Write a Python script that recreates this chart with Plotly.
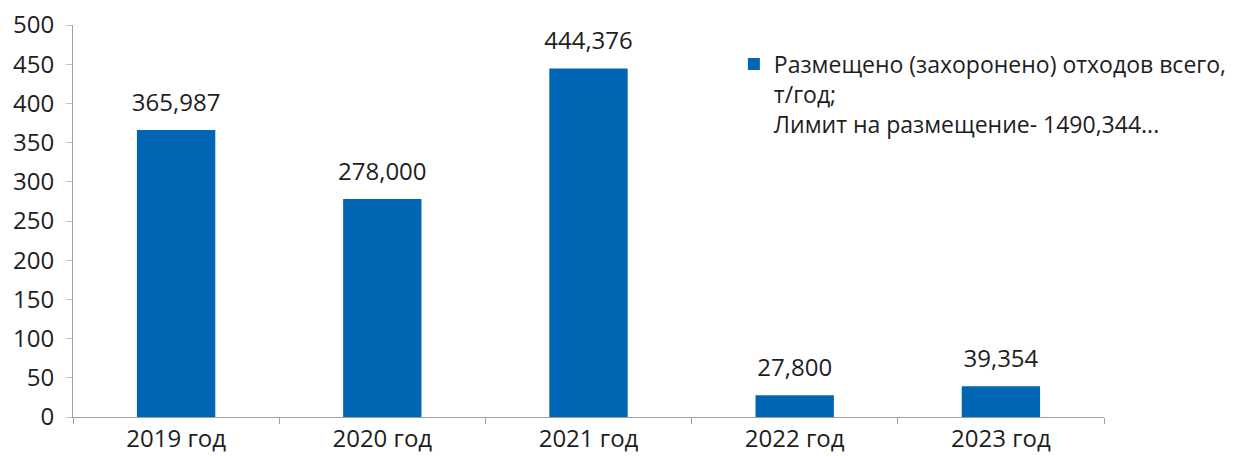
import plotly.graph_objects as go

categories = ["2019 год", "2020 год", "2021 год", "2022 год", "2023 год"]
values = [365.987, 278.000, 444.376, 27.800, 39.354]
series_name = "Размещено (захоронено) отходов всего,<br>т/год;<br>Лимит на размещение- 1490,344..."
y_ticks = [0, 50, 100, 150, 200, 250, 300, 350, 400, 450, 500]

FONT = "Open Sans"
TXT = "#1e1e1e"
FS = 24

fig = go.Figure()
fig.add_trace(go.Bar(
    x=categories, y=values, name=series_name,
    marker=dict(color="#0066B3", line=dict(width=0)),
    showlegend=True, hoverinfo="x+y",
))
# value labels above the bars
fig.add_trace(go.Scatter(
    x=categories, y=values, mode="markers+text",
    texttemplate="%{y:.3f}", textposition="top center",
    marker=dict(size=20, color="rgba(0,0,0,0)"),
    textfont=dict(family=FONT, size=FS, color=TXT),
    cliponaxis=False, showlegend=False, hoverinfo="skip",
))

fig.update_layout(
    width=1239, height=457,
    margin=dict(l=73, r=135, t=25, b=40, autoexpand=False),
    paper_bgcolor="white", plot_bgcolor="white",
    separators=", ",
    bargap=0.62,
    font=dict(family=FONT, size=FS, color=TXT),
    showlegend=True,
    legend=dict(x=0.641, y=0.955, xanchor="left", yanchor="top",
                xref="paper", yref="paper", valign="top",
                font=dict(family=FONT, size=23, color=TXT),
                bgcolor="rgba(0,0,0,0)", itemwidth=30, tracegroupgap=0),
    xaxis=dict(showline=True, linecolor="#A0A0A0", linewidth=1,
               ticks="outside", ticklen=6, tickcolor="#A0A0A0",
               tickson="boundaries", showgrid=False, automargin=False,
               tickfont=dict(family=FONT, size=FS, color=TXT)),
    yaxis=dict(range=[0, 500], tickvals=y_ticks, showline=True,
               linecolor="#A0A0A0", linewidth=1, ticks="outside",
               ticklen=6, tickcolor="#C0C0C0", showgrid=False,
               zeroline=False, ticklabelstandoff=7, automargin=False,
               ticklabeloverflow="allow",
               tickfont=dict(family=FONT, size=FS, color=TXT)),
)

fig.write_html(
    "out.html",
    config={"displayModeBar": False},
    post_script="document.body.style.margin='0';"
                "document.documentElement.style.overflow='hidden';",
)
